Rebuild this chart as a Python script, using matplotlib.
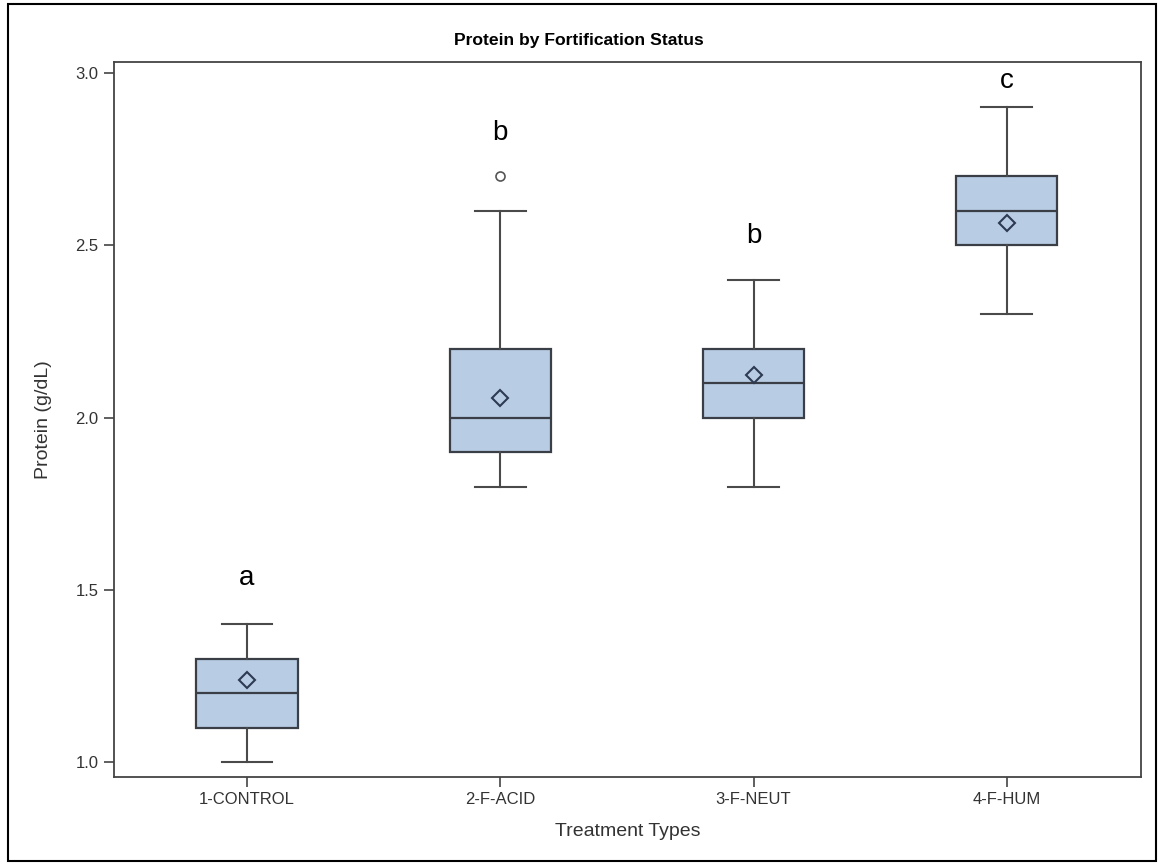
import matplotlib
matplotlib.use("Agg")
import matplotlib.pyplot as plt
from matplotlib.patches import Rectangle

categories = ["1-CONTROL", "2-F-ACID", "3-F-NEUT", "4-F-HUM"]
whis_low = [1.0, 1.8, 1.8, 2.3]
q1 = [1.1, 1.9, 2.0, 2.5]
median = [1.2, 2.0, 2.1, 2.6]
q3 = [1.3, 2.2, 2.2, 2.7]
whis_high = [1.4, 2.6, 2.4, 2.9]
means = [1.238, 2.057, 2.124, 2.565]
outliers = [[], [2.7], [], []]
letters = ["a", "b", "b", "c"]
letter_y = [1.515, 2.806, 2.507, 2.956]

plt.rcParams['font.family'] = ['Liberation Sans', 'DejaVu Sans']

W, H = 1158, 864
fig = plt.figure(figsize=(W / 100, H / 100), dpi=100)
ax = fig.add_axes([114 / W, 1 - 777 / H, (1141 - 114) / W, (777 - 62) / H])

stats = []
for i, c in enumerate(categories):
    stats.append(dict(label=c, whislo=whis_low[i], q1=q1[i], med=median[i],
                      q3=q3[i], whishi=whis_high[i], mean=means[i],
                      fliers=outliers[i]))

edge = "#3a3f47"
wcol = "#4a4a4a"
ax.bxp(stats, positions=range(len(categories)), widths=0.4, patch_artist=True,
       showmeans=True, showfliers=True,
       boxprops=dict(facecolor="#b8cce4", edgecolor=edge, linewidth=1.6),
       medianprops=dict(color=edge, linewidth=1.6),
       whiskerprops=dict(color=wcol, linewidth=1.5),
       capprops=dict(color=wcol, linewidth=1.5),
       capwidths=0.2,
       meanprops=dict(marker="D", markersize=8.5, markerfacecolor="none",
                      markeredgecolor="#2c3a52", markeredgewidth=1.5),
       flierprops=dict(marker="o", markersize=6.5, markerfacecolor="none",
                       markeredgecolor="#555555", markeredgewidth=1.2))

for i, (l, y) in enumerate(zip(letters, letter_y)):
    ax.text(i, y, l, ha="center", va="baseline", fontsize=20, color="black")

ax.set_xlim(-0.525, 3.53)
ax.set_ylim(0.957, 3.032)
ax.set_yticks([1.0, 1.5, 2.0, 2.5, 3.0])
ax.set_yticklabels(["1.0", "1.5", "2.0", "2.5", "3.0"])
ax.set_xticks(range(len(categories)))
ax.set_xticklabels(categories)
ax.tick_params(axis="both", direction="out", length=7, width=1.2, color="#444444",
               labelsize=12, labelcolor="#333333", pad=4)
for s in ax.spines.values():
    s.set_color("#444444")
    s.set_linewidth(1.3)

ax.set_xlabel("Treatment Types", fontsize=14, color="#333333", labelpad=11)
ax.set_ylabel("Protein (g/dL)", fontsize=14, color="#333333", labelpad=17)
fig.text(0.5, 1 - 40 / H, "Protein by Fortification Status", ha="center",
         va="center", fontsize=12.6, fontweight="bold", color="black")

fig.patches.append(Rectangle((8 / W, 1 - 861 / H), (1156 - 8) / W, (861 - 4) / H,
                             transform=fig.transFigure, fill=False,
                             edgecolor="black", linewidth=1.5))

fig.savefig("out.png", dpi=100)
